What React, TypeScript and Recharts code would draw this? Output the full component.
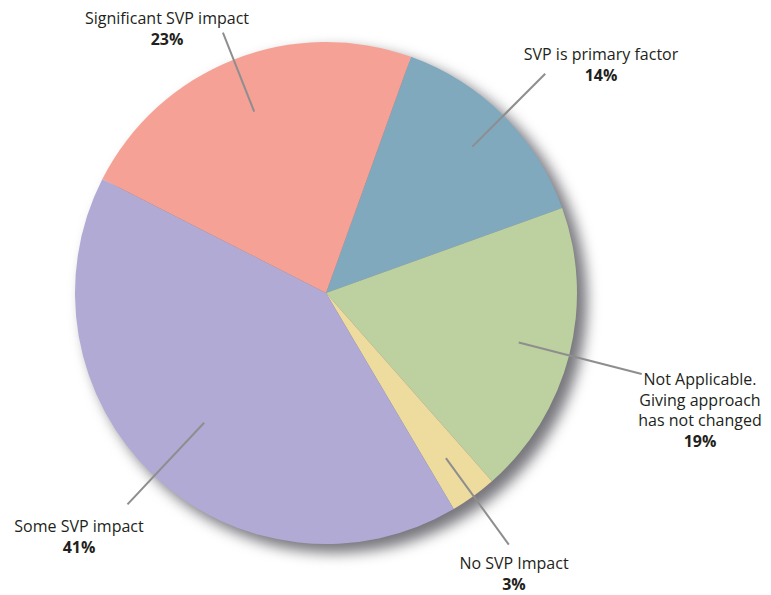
import { PieChart, Pie, Cell } from "recharts";

const LABELS = [
  "SVP is primary factor",
  "Not Applicable. Giving approach has not changed",
  "No SVP Impact",
  "Some SVP impact",
  "Significant SVP impact",
];
const VALUES = [14, 19, 3, 41, 23];
const COLORS = ["#80A9BE", "#BDD0A0", "#EDDC9E", "#B0AAD4", "#F5A196"];

// text lines per slice and where the callout sits (chart coords)
const TEXT_LINES = [
  ["SVP is primary factor"],
  ["Not Applicable.", "Giving approach", "has not changed"],
  ["No SVP Impact"],
  ["Some SVP impact"],
  ["Significant SVP impact"],
];
const LAYOUT = [
  { r1: 207, r2: 310, tx: 593, ty: 52 },
  { r1: 199, r2: 326, tx: 692, ty: 377 },
  { r1: 204, r2: 311, tx: 506, ty: 561 },
  { r1: 178, r2: 290, tx: 71, ty: 524 },
  { r1: 195, r2: 280, tx: 159, ty: 16 },
];

const data = LABELS.map((name, i) => ({ name, value: VALUES[i] }));

const FONT = "'Open Sans', 'DejaVu Sans', sans-serif";
const RAD = Math.PI / 180;

const renderLabel = (props: any) => {
  const { cx, cy, midAngle, index } = props;
  const l = LAYOUT[index];
  const cos = Math.cos(-midAngle * RAD);
  const sin = Math.sin(-midAngle * RAD);
  const lines = TEXT_LINES[index];
  return (
    <g key={`lbl-${index}`}>
      <line
        x1={cx + l.r1 * cos}
        y1={cy + l.r1 * sin}
        x2={cx + l.r2 * cos}
        y2={cy + l.r2 * sin}
        stroke="#8E8E8E"
        strokeWidth={2}
      />
      <text textAnchor="middle" fontFamily={FONT} fontSize={16} fill="#231F20">
        {lines.map((t, j) => (
          <tspan key={j} x={l.tx} y={l.ty + j * 20.6}>
            {t}
          </tspan>
        ))}
        <tspan x={l.tx} y={l.ty + lines.length * 20.6} fontWeight="bold">
          {VALUES[index]}%
        </tspan>
      </text>
    </g>
  );
};

export default function App() {
  return (
    <div style={{ width: 763, height: 587, background: "#fff" }}>
      <PieChart width={763} height={587} margin={{ top: 0, right: 0, bottom: 0, left: 0 }}>
        {/* drop shadow disc */}
        <Pie
          data={[{ name: "shadow", value: 1 }]}
          dataKey="value"
          cx={327}
          cy={293}
          outerRadius={252}
          stroke="none"
          isAnimationActive={false}
          label={false}
          labelLine={false}
        >
          <Cell fill="#76767c" style={{ filter: "blur(7px)" }} />
        </Pie>
        <Pie
          data={data}
          dataKey="value"
          cx={318}
          cy={285}
          outerRadius={251}
          startAngle={70.2}
          endAngle={-289.8}
          stroke="none"
          isAnimationActive={false}
          label={renderLabel}
          labelLine={false}
        >
          {data.map((d, i) => (
            <Cell key={d.name} fill={COLORS[i]} />
          ))}
        </Pie>
      </PieChart>
    </div>
  );
}
